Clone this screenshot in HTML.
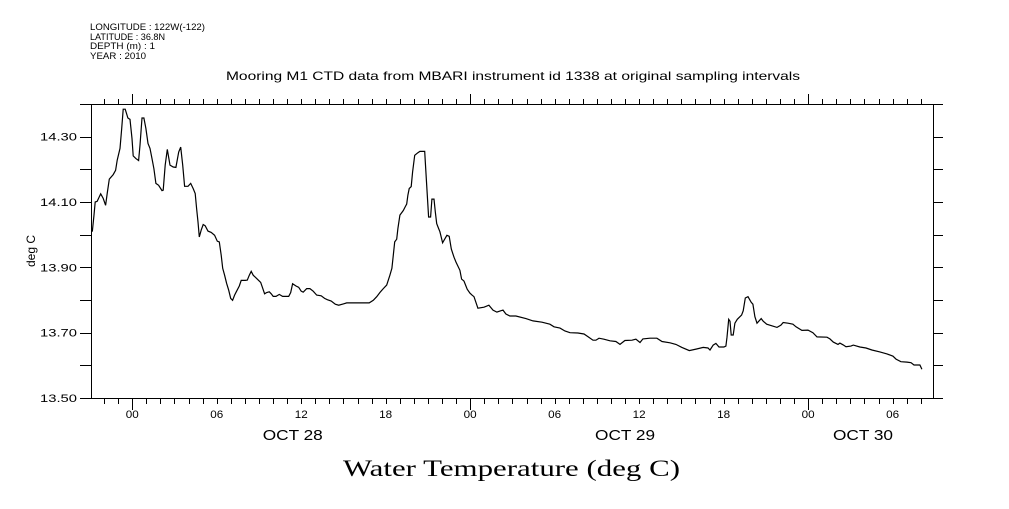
<!DOCTYPE html>
<html><head><meta charset="utf-8"><style>
html,body{margin:0;padding:0;background:#fff;}
body{width:1009px;height:504px;overflow:hidden;}
svg text{font-family:"Liberation Sans",sans-serif;fill:#000;}
</style></head><body>
<svg id="chart" width="1009" height="504" viewBox="0 0 1009 504" xmlns="http://www.w3.org/2000/svg">
<g font-size="9">
<text x="90" y="30" textLength="115" lengthAdjust="spacingAndGlyphs">LONGITUDE : 122W(-122)</text>
<text x="90" y="40" textLength="75" lengthAdjust="spacingAndGlyphs">LATITUDE : 36.8N</text>
<text x="90" y="49" textLength="65" lengthAdjust="spacingAndGlyphs">DEPTH (m) : 1</text>
<text x="90" y="59" textLength="56" lengthAdjust="spacingAndGlyphs">YEAR : 2010</text>
</g>
<text x="226" y="80" font-size="12" textLength="574" lengthAdjust="spacingAndGlyphs">Mooring M1 CTD data from MBARI instrument id 1338 at original sampling intervals</text>
<text x="35" y="251" font-size="12" text-anchor="middle" transform="rotate(-90 35 251)">deg C</text>
<text x="343" y="476" font-size="23" textLength="337" lengthAdjust="spacingAndGlyphs" style="font-family:'Liberation Serif',serif">Water Temperature (deg C)</text>
<g id="axes"></g>
<g id="series"></g>
</svg>
<script>
const hours=[-2.84,-2.72,-2.63,-2.49,-2.24,-2.06,-1.89,-1.78,-1.63,-1.35,-1.18,-1.07,-0.87,-0.75,-0.64,-0.50,-0.31,-0.16,-0.02,0.07,0.26,0.45,0.55,0.69,0.83,0.97,1.12,1.26,1.40,1.54,1.68,1.87,2.11,2.20,2.34,2.49,2.68,2.91,3.10,3.30,3.44,3.58,3.72,3.96,4.15,4.33,4.47,4.57,4.67,4.76,4.90,5.04,5.18,5.38,5.61,5.85,6.04,6.18,6.32,6.42,6.56,6.70,6.85,6.99,7.13,7.27,7.41,7.60,7.74,8.03,8.17,8.31,8.45,8.59,8.83,9.12,9.26,9.40,9.55,9.73,9.87,10.01,10.21,10.44,10.68,11.11,11.25,11.39,11.63,11.82,12.00,12.14,12.39,12.62,12.85,13.10,13.42,13.66,13.85,14.13,14.42,14.66,14.99,15.23,16.83,17.12,17.36,17.59,17.83,18.07,18.30,18.44,18.54,18.64,18.78,18.87,19.01,19.25,19.39,19.49,19.58,19.67,19.81,19.91,20.06,20.29,20.43,20.77,20.81,20.91,21.05,21.19,21.28,21.43,21.52,21.62,21.76,21.85,22.04,22.35,22.51,22.66,22.85,22.99,23.27,23.39,23.56,23.79,23.98,24.13,24.27,24.55,24.98,25.33,25.62,25.90,26.11,26.33,26.54,26.82,27.25,27.96,28.46,29.10,29.66,29.95,30.38,30.73,31.09,31.65,32.08,32.36,32.72,32.93,33.15,33.50,33.93,34.35,34.64,34.99,35.49,35.77,36.06,36.27,36.77,37.26,37.62,38.19,38.61,39.04,39.56,40.08,40.55,40.89,41.03,41.26,41.45,41.67,42.02,42.16,42.24,42.36,42.45,42.54,42.68,42.80,42.97,43.28,43.39,43.54,43.73,43.96,44.08,44.22,44.37,44.67,44.81,45.06,45.43,45.79,46.07,46.23,46.57,46.92,47.14,47.56,47.99,48.34,48.63,49.34,49.55,49.79,50.12,50.26,50.48,50.69,51.04,51.21,51.68,52.11,52.53,53.10,53.60,54.03,54.24,54.59,55.02,55.31,55.52,55.94,56.08];
const temps=[14.009,14.060,14.100,14.102,14.125,14.111,14.090,14.126,14.170,14.184,14.197,14.228,14.264,14.325,14.384,14.384,14.357,14.353,14.294,14.241,14.233,14.227,14.274,14.357,14.357,14.325,14.279,14.264,14.233,14.202,14.157,14.151,14.135,14.136,14.213,14.261,14.213,14.207,14.206,14.253,14.268,14.213,14.148,14.148,14.157,14.141,14.126,14.080,14.039,13.993,14.014,14.031,14.027,14.011,14.007,13.998,13.980,13.978,13.937,13.897,13.876,13.851,13.830,13.805,13.799,13.815,13.827,13.843,13.860,13.860,13.861,13.876,13.888,13.876,13.866,13.854,13.837,13.819,13.823,13.825,13.819,13.811,13.811,13.817,13.811,13.811,13.823,13.850,13.843,13.839,13.827,13.824,13.835,13.835,13.827,13.815,13.813,13.805,13.801,13.797,13.787,13.784,13.788,13.791,13.791,13.799,13.810,13.823,13.835,13.846,13.876,13.897,13.937,13.978,13.986,14.019,14.060,14.074,14.086,14.094,14.121,14.141,14.147,14.192,14.243,14.251,14.255,14.255,14.223,14.151,14.054,14.054,14.109,14.109,14.070,14.034,14.019,14.009,13.975,13.998,13.995,13.956,13.931,13.916,13.891,13.864,13.858,13.833,13.821,13.815,13.810,13.775,13.778,13.784,13.769,13.763,13.766,13.769,13.757,13.751,13.751,13.743,13.736,13.732,13.726,13.718,13.714,13.705,13.700,13.699,13.696,13.688,13.677,13.677,13.683,13.680,13.675,13.673,13.664,13.676,13.677,13.680,13.670,13.681,13.683,13.683,13.673,13.669,13.664,13.655,13.645,13.650,13.655,13.653,13.647,13.662,13.667,13.656,13.656,13.659,13.686,13.741,13.735,13.693,13.693,13.729,13.741,13.754,13.767,13.806,13.810,13.793,13.787,13.749,13.729,13.743,13.735,13.726,13.721,13.716,13.723,13.731,13.729,13.726,13.718,13.707,13.708,13.700,13.687,13.686,13.681,13.671,13.664,13.668,13.663,13.657,13.659,13.662,13.656,13.653,13.647,13.641,13.635,13.628,13.619,13.611,13.610,13.608,13.601,13.601,13.588];
const yTickValues=[13.5,13.6,13.7,13.8,13.9,14.0,14.1,14.2,14.3,14.4];
const yTickLabels=["13.50","13.70","13.90","14.10","14.30"];
const xHourLabels=["00","06","12","18","00","06","12","18","00","06"];
const xHourLabelHours=[0,6,12,18,24,30,36,42,48,54];
const dayLabels=["OCT 28","OCT 29","OCT 30"];
const dayLabelHours=[11.4,35.0,51.9];

const L=91,R=933,T=104,B=398;
const hMin=-2.93,hMax=56.87,tMin=13.5,tMax=14.4;
const xs=h=>L+(h-hMin)/(hMax-hMin)*(R-L);
const ys=t=>B-(t-tMin)/(tMax-tMin)*(B-T);
const NS="http://www.w3.org/2000/svg";
const axes=document.getElementById('axes');
function mk(tag,attrs,parent){const e=document.createElementNS(NS,tag);for(const k in attrs)e.setAttribute(k,attrs[k]);parent.appendChild(e);return e;}
const frame=mk('rect',{x:L+0.5,y:T+0.5,width:R-L,height:B-T,fill:'none',stroke:'#000','stroke-width':1},axes);


for(const v of yTickValues){
  const y=Math.round(ys(v))+0.5;
  const tl=mk('line',{x1:L-11,x2:L,y1:y,y2:y,stroke:'#000'},axes);
  
  
  const tr=mk('line',{x1:R,x2:R+10,y1:y,y2:y,stroke:'#000'},axes);
  
  
}
for(const s of yTickLabels){
  const t=mk('text',{x:40,y:ys(parseFloat(s))+4,'font-size':11,textLength:37,lengthAdjust:'spacingAndGlyphs'},axes);
  t.textContent=s;
  
  
}
for(let h=Math.ceil(hMin);h<=hMax;h++){
  const x=Math.round(xs(h))+0.5;
  const major=((h%24)+24)%24===0;
  const b=mk('line',{x1:x,x2:x,y1:B,y2:B+(major?12:6),stroke:'#000'},axes);
  
  
  const t=mk('line',{x1:x,x2:x,y1:T,y2:T-(major?10:5),stroke:'#000'},axes);
  
  
}
xHourLabels.forEach((s,i)=>{
  const t=mk('text',{x:xs(xHourLabelHours[i])-6.5,y:418,'font-size':11,textLength:13,lengthAdjust:'spacingAndGlyphs'},axes);
  t.textContent=s;
  
  
});
dayLabels.forEach((s,i)=>{
  const t=mk('text',{x:xs(dayLabelHours[i])-30,y:440,'font-size':15,textLength:60,lengthAdjust:'spacingAndGlyphs'},axes);
  t.textContent=s;
  
  
});
const pts=hours.map((h,i)=>xs(h).toFixed(1)+','+ys(temps[i]).toFixed(1)).join(' ');
const line=mk('polyline',{points:pts,fill:'none',stroke:'#000','stroke-width':1.2},document.getElementById('series'));


</script>
</body></html>
